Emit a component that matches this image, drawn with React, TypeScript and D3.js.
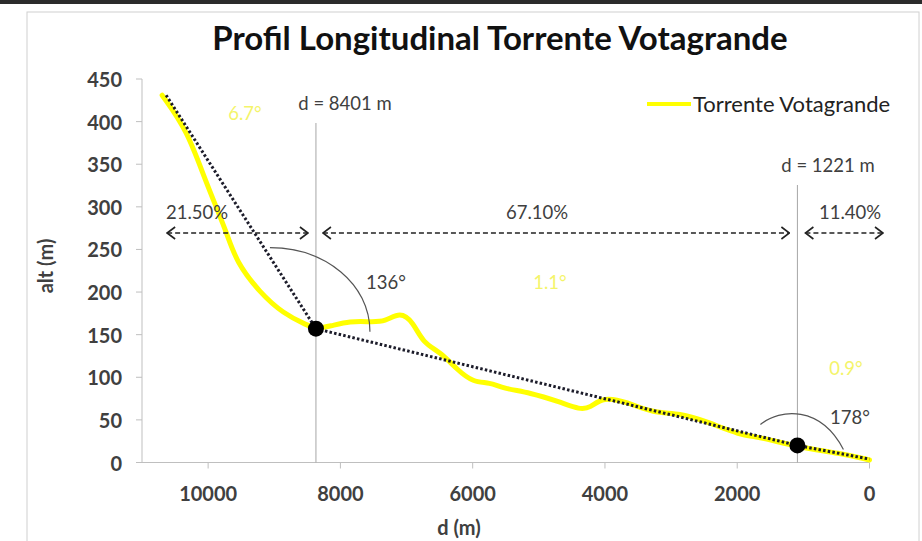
import React from 'react'
import * as d3 from 'd3'

// profile (distance to outlet in m, altitude in m)
const distance = [10696, 10318, 10045, 9713, 9580, 9214, 8866, 8503, 8367, 8156, 7853, 7551, 7324, 7097, 6901, 6750, 6493, 6236, 5994, 5737, 5541, 5133, 4679, 4376, 4225, 4029, 3666, 3273, 2865, 2457, 1958, 1655, 1081, 446, 0]
const altitude = [431, 390, 331, 269, 236, 199, 175, 161, 157, 160, 166, 165, 165, 177, 165, 140, 130, 109, 94, 94, 87, 82, 71, 62, 64, 77, 71, 58, 58, 48, 32, 30, 18, 11, 3]

// dotted slope segments
const slopeDist = [10635, 8370, 1090, 0]
const slopeAlt = [431, 157, 20, 4]

const xTicks = [10000, 8000, 6000, 4000, 2000, 0]
const yTicks = [0, 50, 100, 150, 200, 250, 300, 350, 400, 450]

const breakLabels = ['d = 8401 m', 'd = 1221 m']
const shareLabels = ['21.50%', '67.10%', '11.40%']
const slopeLabels = ['6.7°', '1.1°', '0.9°']
const angleLabels = ['136°', '178°']

const font = 'Lato, "Open Sans", sans-serif'
const textCol = '#404040'

const App = () => {
	const x = d3.scaleLinear().domain([11000, 0]).range([142, 869.5])
	const y = d3.scaleLinear().domain([0, 450]).range([462.5, 79])

	const profile = d3
		.line<number>()
		.x((d, i) => x(distance[i]))
		.y((d) => y(d))
		.curve(d3.curveBasis)(altitude)

	const slope = d3
		.line<number>()
		.x((d, i) => x(slopeDist[i]))
		.y((d) => y(d))(slopeAlt)

	const b1 = { x: x(slopeDist[1]), y: y(slopeAlt[1]) }
	const b2 = { x: x(slopeDist[2]), y: y(slopeAlt[2]) }
	const arrowY = 233

	// angle arcs drawn around the two breaks
	const arc1 = d3.path()
	arc1.moveTo(b1.x - 46, b1.y - 81)
	arc1.bezierCurveTo(b1.x + 9, b1.y - 81, b1.x + 54, b1.y - 45, b1.x + 54, b1.y + 3)
	const arc2 = d3.path()
	arc2.moveTo(b2.x - 37, b2.y - 21)
	arc2.bezierCurveTo(b2.x - 17, b2.y - 37, b2.x + 23, b2.y - 40, b2.x + 46, b2.y + 4)

	const arrows = [
		[x(10620), b1.x - 8],
		[b1.x + 7, b2.x - 8],
		[b2.x + 8, 883],
	]
	const shareX = [197, 537, 850]

	return (
		<svg width={922} height={541} style={{ position: 'absolute', left: 0, top: 0, background: '#fff' }}>
			<defs>
				<marker id="chev" viewBox="-10 -7 11 14" markerWidth={11} markerHeight={14} refX={0} refY={0} orient="auto-start-reverse" markerUnits="userSpaceOnUse">
					<path d="M-8,-6 L0,0 L-8,6" fill="none" stroke="#222" strokeWidth={1.6} />
				</marker>
			</defs>
			<rect x={0} y={0} width={922} height={4} fill="#2b2b2b" />
			<rect x={27} y={12} width={892} height={540} fill="none" stroke="#d0d0d0" />
			<text x={500} y={37} textAnchor="middle" dominantBaseline="central" fontFamily={font} fontWeight="bold" fontSize={33} fill="#111">
				Profil Longitudinal Torrente Votagrande
			</text>

			{/* axes */}
			<line x1={142} x2={142} y1={79} y2={y(0)} stroke="#bfbfbf" />
			<line x1={142} x2={x(0)} y1={y(0)} y2={y(0)} stroke="#bfbfbf" />
			{yTicks.map((t) => (
				<g key={'y' + t}>
					<line x1={136} x2={142} y1={y(t)} y2={y(t)} stroke="#bfbfbf" />
					<text x={122} y={y(t)} textAnchor="end" dominantBaseline="central" fontFamily={font} fontWeight="bold" fontSize={20} fill={textCol}>
						{t}
					</text>
				</g>
			))}
			{xTicks.map((t) => (
				<g key={'x' + t}>
					<line x1={x(t)} x2={x(t)} y1={y(0)} y2={y(0) + 6} stroke="#bfbfbf" />
					<text x={x(t)} y={493} textAnchor="middle" dominantBaseline="central" fontFamily={font} fontWeight="bold" fontSize={20} fill={textCol}>
						{t}
					</text>
				</g>
			))}
			<text x={459} y={527} textAnchor="middle" dominantBaseline="central" fontFamily={font} fontWeight="bold" fontSize={20} fill={textCol}>
				d (m)
			</text>
			<text transform="translate(45,266) rotate(-90)" textAnchor="middle" dominantBaseline="central" fontFamily={font} fontWeight="bold" fontSize={20} fill={textCol}>
				alt (m)
			</text>

			{/* break lines */}
			<line x1={b1.x} x2={b1.x} y1={123} y2={y(0)} stroke="#a6a6a6" />
			<line x1={b2.x} x2={b2.x} y1={185} y2={y(0)} stroke="#a6a6a6" />
			<text x={345} y={103} textAnchor="middle" dominantBaseline="central" fontFamily={font} fontSize={18.5} fill={textCol}>
				{breakLabels[0]}
			</text>
			<text x={828} y={165} textAnchor="middle" dominantBaseline="central" fontFamily={font} fontSize={18.5} fill={textCol}>
				{breakLabels[1]}
			</text>

			{/* profile */}
			<path d={profile ?? ''} fill="none" stroke="#ffff00" strokeWidth={5} strokeLinejoin="round" strokeLinecap="round" />
			<path d={slope ?? ''} fill="none" stroke="#1c1c2a" strokeWidth={3} strokeDasharray="2.5 2.2" />
			<circle cx={b1.x} cy={b1.y} r={8} fill="#000" />
			<circle cx={b2.x} cy={b2.y} r={8} fill="#000" />

			{/* share arrows */}
			{arrows.map((a, i) => (
				<g key={'a' + i}>
					<line x1={a[0]} x2={a[1]} y1={arrowY} y2={arrowY} stroke="#222" strokeWidth={1.5} strokeDasharray="5 3" markerStart="url(#chev)" markerEnd="url(#chev)" />
					<text x={shareX[i]} y={212} textAnchor="middle" dominantBaseline="central" fontFamily={font} fontSize={18.5} fill={textCol}>
						{shareLabels[i]}
					</text>
				</g>
			))}

			{/* angles */}
			<path d={arc1.toString()} fill="none" stroke="#555" strokeWidth={1.2} />
			<path d={arc2.toString()} fill="none" stroke="#555" strokeWidth={1.2} />
			<text x={386} y={282} textAnchor="middle" dominantBaseline="central" fontFamily={font} fontSize={18.5} fill={textCol}>
				{angleLabels[0]}
			</text>
			<text x={850} y={417} textAnchor="middle" dominantBaseline="central" fontFamily={font} fontSize={18.5} fill={textCol}>
				{angleLabels[1]}
			</text>
			{[
				[245, 113],
				[550, 282],
				[846, 368],
			].map((p, i) => (
				<text key={'s' + i} x={p[0]} y={p[1]} textAnchor="middle" dominantBaseline="central" fontFamily={font} fontSize={18.5} fill="#f4f46a">
					{slopeLabels[i]}
				</text>
			))}

			{/* legend */}
			<line x1={647} x2={691} y1={104} y2={104} stroke="#ffff00" strokeWidth={4} />
			<text x={693} y={103} dominantBaseline="central" fontFamily={font} fontSize={22} fill="#222">
				Torrente Votagrande
			</text>
		</svg>
	)
}

export default App
